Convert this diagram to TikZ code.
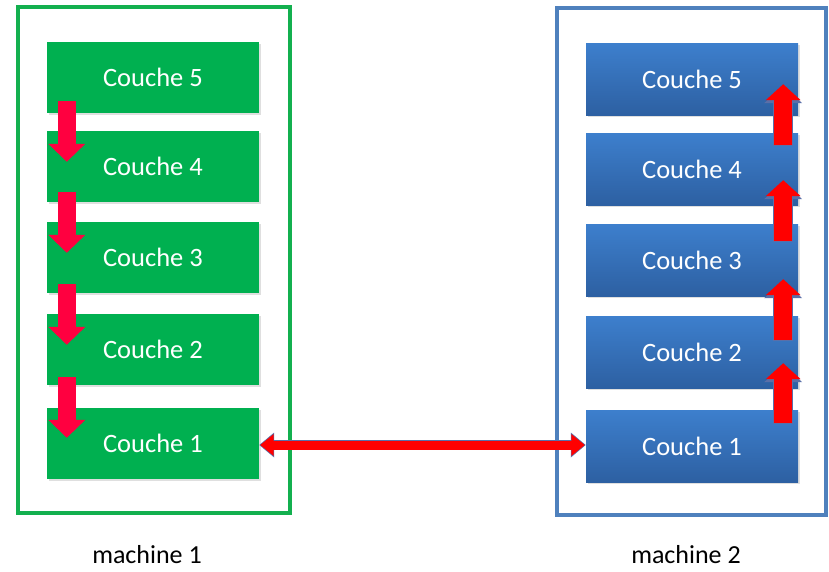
\documentclass[tikz,border=0pt]{standalone}
\usepackage{fontspec}
\setmainfont{Carlito}
\usetikzlibrary{arrows.meta,shadows,calc}
\definecolor{gfill}{HTML}{00B050}
\definecolor{gframe}{HTML}{13B04F}
\definecolor{bframe}{HTML}{4F81BD}
\definecolor{btop}{HTML}{3D7FCD}
\definecolor{bbot}{HTML}{2D60A2}
\definecolor{downred}{HTML}{FF0040}
\definecolor{upred}{HTML}{FF0000}
\definecolor{edgeblue}{HTML}{5A6FA8}
\tikzset{
  layerg/.style={fill=gfill, minimum width=212pt, minimum height=71pt, inner sep=0pt,
    text=white, font=\fontsize{26.5}{30}\selectfont,
    drop shadow={opacity=0.25, shadow xshift=1.5pt, shadow yshift=-1.5pt}},
  layerb/.style={top color=btop, bottom color=bbot, minimum width=212pt, minimum height=72pt, inner sep=0pt,
    text=white, font=\fontsize{26.5}{30}\selectfont,
    drop shadow={opacity=0.25, shadow xshift=1.5pt, shadow yshift=-1.5pt}},
  downarrow/.style={line width=18pt, downred, -{Triangle[length=18pt,width=36pt]}},
  uparrowedge/.style={line width=20.5pt, edgeblue, -{Triangle[length=17.5pt,width=37pt]}},
  uparrow/.style={line width=18pt, upred, -{Triangle[length=16pt,width=34pt]}},
  machlabel/.style={anchor=base, font=\fontsize{26}{30}\selectfont, text=black, inner sep=0pt},
}
\begin{document}
\begin{tikzpicture}[x=1pt, y=-1pt]
\useasboundingbox (0,0) rectangle (829,571);
% frames
\draw[gframe, line width=4pt] (18,7) rectangle (290,513);
\draw[bframe, line width=3.5pt] (557,8) rectangle (826,515);
% green layers
\node[layerg] (g5) at (153,77.5) {Couche 5};
\node[layerg] (g4) at (153,166.5) {Couche 4};
\node[layerg] (g3) at (153,257.5) {Couche 3};
\node[layerg] (g2) at (153,349.5) {Couche 2};
\node[layerg] (g1) at (153,443.5) {Couche 1};
% blue layers
\node[layerb] (b5) at (692,79) {Couche 5};
\node[layerb] (b4) at (692,169) {Couche 4};
\node[layerb] (b3) at (692,260) {Couche 3};
\node[layerb] (b2) at (692,352) {Couche 2};
\node[layerb] (b1) at (692,446) {Couche 1};
% down arrows (machine 1)
\draw[downarrow] ($(g5.south west)+(20,-12)$) -- ($(g4.north west)+(20,31)$);
\draw[downarrow] ($(g4.south west)+(20,-10)$) -- ($(g3.north west)+(20,31)$);
\draw[downarrow] ($(g3.south west)+(20,-9)$) -- ($(g2.north west)+(20,31)$);
\draw[downarrow] ($(g2.south west)+(20,-8)$) -- ($(g1.north west)+(20,30)$);
% up arrows (machine 2)
\foreach \lo/\hi/\bo/\to in {b1/b2/13/-25, b2/b3/24/-17, b3/b4/17/-25, b4/b5/12/-31}{
  \draw[uparrowedge] ($(\lo.north east)+(-15,\bo+1)$) -- ($(\hi.south east)+(-15,\to+1.5)$);
  \draw[uparrow] ($(\lo.north east)+(-15,\bo)$) -- ($(\hi.south east)+(-15,\to)$);
}
% horizontal double arrow
\coordinate (hy) at (0,445);
\draw[line width=10.5pt, edgeblue, {Triangle[length=15pt,width=24pt]}-{Triangle[length=15pt,width=24pt]}] (g1.east |- hy) -- (b1.west |- hy);
\draw[line width=9pt, upred, {Triangle[length=13.5pt,width=21pt]}-{Triangle[length=13.5pt,width=21pt]}] ($(g1.east |- hy)+(1,0)$) -- ($(b1.west |- hy)+(-1,0)$);
% labels
\node[machlabel] (l1) at (147,563) {machine 1};
\node[machlabel] (l2) at (686,563) {machine 2};
\end{tikzpicture}
\end{document}
